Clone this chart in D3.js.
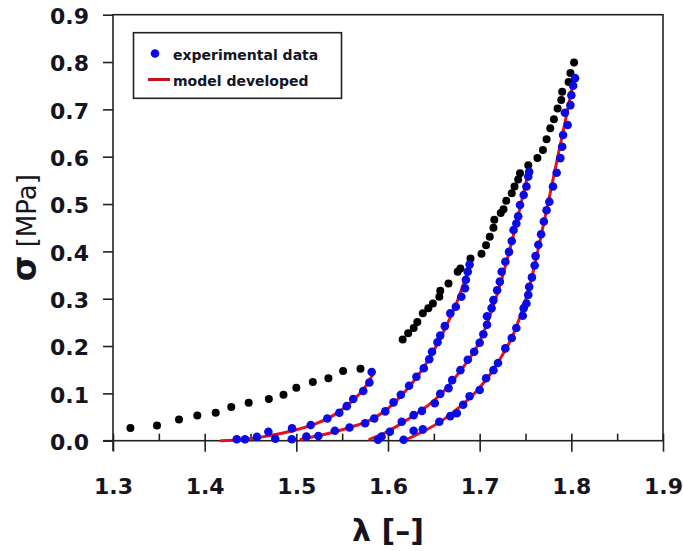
<!DOCTYPE html>
<html>
<head>
<meta charset="utf-8">
<script src="https://cdn.jsdelivr.net/npm/d3@7/dist/d3.min.js"></script>
<style>
  html, body { margin: 0; padding: 0; background: #fff; }
  svg { display: block; }
</style>
</head>
<body>
<svg id="chart" width="683" height="551"></svg>
<script>
// ---- data (λ, σ in MPa) ----
const xTicks = [1.3, 1.4, 1.5, 1.6, 1.7, 1.8, 1.9];
const xMinorTicks = [1.35, 1.45, 1.55, 1.65, 1.75, 1.85];
const yTicks = [0, 0.1, 0.2, 0.3, 0.4, 0.5, 0.6, 0.7, 0.8, 0.9];

const legendLabels = ["experimental data", "model developed"];

// black loading points
const blackLow = [
  [1.319,0.027],[1.348,0.032],[1.372,0.045],[1.392,0.053],[1.412,0.059],[1.429,0.071],
  [1.448,0.080],[1.470,0.088],[1.486,0.097],[1.500,0.112],[1.518,0.124],[1.535,0.132],
  [1.551,0.147],[1.570,0.152]
];
const blackHigh = [
  [1.616,0.214],[1.622,0.227],[1.628,0.238],[1.632,0.251],[1.638,0.269],[1.644,0.280],
  [1.649,0.290],[1.656,0.304],[1.657,0.317],[1.666,0.332],[1.676,0.357],[1.679,0.364],
  [1.690,0.385],[1.702,0.395],[1.707,0.413],[1.711,0.431],[1.715,0.450],[1.716,0.467],
  [1.723,0.481],[1.726,0.489],[1.729,0.507],[1.735,0.523],[1.738,0.537],[1.742,0.552],
  [1.744,0.565],[1.753,0.582],[1.763,0.597],[1.769,0.614],[1.773,0.637],[1.777,0.660],
  [1.781,0.679],[1.785,0.702],[1.789,0.720],[1.790,0.737],[1.797,0.758],[1.799,0.777],
  [1.803,0.799]
];

// blue experimental points (four unloading curves)
const blueA = [
  [1.435,0.003],[1.444,0.003],[1.457,0.008],[1.4695,0.019],[1.4953,0.026],[1.5157,0.033],
  [1.5338,0.047],[1.5469,0.059],[1.555,0.073],[1.5621,0.088],[1.573,0.105],[1.5797,0.123],
  [1.5822,0.145]
];
const blueB = [
  [1.477,0.004],[1.495,0.003],[1.511,0.009],[1.524,0.010],[1.542,0.021],[1.558,0.028],
  [1.575,0.037],[1.585,0.047],[1.597,0.062],[1.606,0.081],[1.614,0.097],[1.623,0.116],
  [1.631,0.135],[1.639,0.153],[1.645,0.172],[1.648,0.188],[1.654,0.208],[1.657,0.222],
  [1.662,0.242],[1.668,0.269],[1.674,0.283],[1.680,0.304],[1.684,0.322],[1.685,0.340],
  [1.687,0.357],[1.689,0.372]
];
const blueC = [
  [1.589,0.002],[1.593,0.009],[1.602,0.019],[1.615,0.040],[1.628,0.054],[1.637,0.063],
  [1.651,0.079],[1.657,0.099],[1.666,0.111],[1.670,0.128],[1.679,0.149],[1.687,0.171],
  [1.694,0.188],[1.700,0.207],[1.704,0.225],[1.708,0.245],[1.708,0.263],[1.713,0.280],
  [1.715,0.297],[1.719,0.318],[1.722,0.336],[1.724,0.357],[1.728,0.378],[1.732,0.399],
  [1.735,0.422],[1.737,0.445],[1.740,0.459],[1.742,0.474],[1.744,0.498],[1.748,0.519],
  [1.751,0.537],[1.753,0.558],[1.754,0.568]
];
const blueD = [
  [1.617,0.002],[1.628,0.021],[1.638,0.024],[1.656,0.040],[1.668,0.052],[1.675,0.058],
  [1.682,0.076],[1.689,0.094],[1.700,0.107],[1.707,0.132],[1.715,0.149],[1.720,0.164],
  [1.728,0.195],[1.735,0.217],[1.740,0.238],[1.747,0.264],[1.748,0.280],[1.751,0.290],
  [1.753,0.308],[1.754,0.325],[1.757,0.345],[1.760,0.370],[1.761,0.390],[1.764,0.414],
  [1.767,0.436],[1.770,0.463],[1.773,0.487],[1.776,0.505],[1.780,0.537],[1.784,0.566],
  [1.788,0.597],[1.790,0.621],[1.791,0.646],[1.796,0.667],[1.793,0.693],[1.799,0.709],
  [1.800,0.730],[1.802,0.750],[1.804,0.766]
];

// red model curves
const modelA = [
  [1.418,0.000],[1.44,0.002],[1.46,0.007],[1.48,0.014],[1.50,0.023],[1.52,0.035],
  [1.54,0.053],[1.56,0.082],[1.575,0.113],[1.584,0.142]
];
const modelB = [
  [1.505,0.003],[1.52,0.009],[1.54,0.018],[1.56,0.029],[1.58,0.043],[1.60,0.068],
  [1.62,0.107],[1.64,0.158],[1.66,0.228],[1.675,0.292],[1.69,0.375]
];
const modelC = [
  [1.580,0.003],[1.60,0.020],[1.62,0.043],[1.64,0.069],[1.66,0.103],[1.68,0.150],
  [1.70,0.210],[1.72,0.315],[1.735,0.420],[1.745,0.500],[1.753,0.565]
];
const modelD = [
  [1.617,0.000],[1.64,0.021],[1.66,0.044],[1.68,0.074],[1.70,0.112],[1.72,0.165],
  [1.74,0.240],[1.755,0.330],[1.765,0.415],[1.775,0.505],[1.785,0.598],[1.795,0.690],
  [1.803,0.765]
];

// ---- layout ----
const svg = d3.select("#chart");
const L = 113, R = 663, T = 14.7, B = 440.7;
const x = d3.scaleLinear().domain([1.3, 1.9]).range([L, R]);
const y = d3.scaleLinear().domain([0, 0.9]).range([B, T]);
const FONT = "'DejaVu Sans', sans-serif";
const TXT = "#151522";

// frame
svg.append("rect").attr("x", L).attr("y", T).attr("width", R - L).attr("height", B - T)
  .attr("fill", "none").attr("stroke", "#222").attr("stroke-width", 1.6);
// axis line extensions
svg.append("line").attr("x1", L).attr("x2", L).attr("y1", B).attr("y2", B + 10)
  .attr("stroke", "#222").attr("stroke-width", 1.6);
svg.append("line").attr("x1", L - 10).attr("x2", L).attr("y1", B).attr("y2", B)
  .attr("stroke", "#222").attr("stroke-width", 1.6);

// y axis
const yAxis = svg.append("g").attr("transform", `translate(${L},0)`)
  .call(d3.axisLeft(y).tickValues(yTicks).tickSize(10).tickPadding(14).tickFormat(d3.format(".1f")));
yAxis.select(".domain").remove();
yAxis.selectAll("line").attr("stroke", "#222").attr("stroke-width", 1.6);
yAxis.selectAll("text").attr("font-family", FONT).attr("font-weight", "bold")
  .attr("font-size", 22).attr("fill", TXT).attr("dy", "0.4em");

// x axis minor (inside) ticks
const xMinor = svg.append("g").attr("transform", `translate(0,${B})`)
  .call(d3.axisBottom(x).tickValues(xMinorTicks).tickSize(-7).tickFormat(""));
xMinor.select(".domain").remove();
xMinor.selectAll("line").attr("stroke", "#222").attr("stroke-width", 1.6);

// x axis major ticks (crossing)
const xAxis = svg.append("g").attr("transform", `translate(0,${B})`)
  .call(d3.axisBottom(x).tickValues(xTicks).tickSize(11).tickPadding(27).tickFormat(d3.format(".1f")));
xAxis.select(".domain").remove();
xAxis.selectAll("line").attr("stroke", "#222").attr("stroke-width", 1.6).attr("y1", -7);
xAxis.selectAll("text").attr("font-family", FONT).attr("font-weight", "bold")
  .attr("font-size", 22).attr("fill", TXT);

// axis titles
svg.append("text").attr("x", (L + R) / 2).attr("y", 541).attr("text-anchor", "middle")
  .attr("font-family", FONT).attr("font-weight", "bold").attr("font-size", 30).attr("fill", TXT)
  .text("λ [–]");

const yt = svg.append("text").attr("transform", `translate(36,${(T + B) / 2}) rotate(-90)`)
  .attr("text-anchor", "middle").attr("font-family", FONT).attr("fill", TXT);
yt.append("tspan").attr("font-weight", "bold").attr("font-size", 33).text("σ");
yt.append("tspan").attr("font-size", 26).text(" [MPa]");

// model lines
const line = d3.line().x(d => x(d[0])).y(d => y(d[1])).curve(d3.curveMonotoneX);
[modelA, modelB, modelC, modelD].forEach(m => {
  svg.append("path").datum(m).attr("d", line).attr("fill", "none")
    .attr("stroke", "#e8101a").attr("stroke-width", 3).attr("stroke-linecap", "round");
});

// black points
svg.append("g").selectAll("circle").data(blackLow.concat(blackHigh)).join("circle")
  .attr("cx", d => x(d[0])).attr("cy", d => y(d[1])).attr("r", 4).attr("fill", "#000");

// blue points
svg.append("g").selectAll("circle").data(blueA.concat(blueB, blueC, blueD)).join("circle")
  .attr("cx", d => x(d[0])).attr("cy", d => y(d[1])).attr("r", 4.3).attr("fill", "#0a0ae6");

// legend
const lg = svg.append("g");
lg.append("rect").attr("x", 133.5).attr("y", 32.7).attr("width", 208).attr("height", 65.6)
  .attr("fill", "#fff").attr("stroke", "#222").attr("stroke-width", 1.6);
lg.append("circle").attr("cx", 155).attr("cy", 53.5).attr("r", 4.3).attr("fill", "#0a0ae6");
lg.append("line").attr("x1", 148).attr("x2", 170).attr("y1", 79.5).attr("y2", 79.5)
  .attr("stroke", "#c8101a").attr("stroke-width", 3);
lg.selectAll("text.lab").data(legendLabels).join("text").attr("class", "lab")
  .attr("x", 173).attr("y", (d, i) => 60 + i * 26)
  .attr("font-family", FONT).attr("font-weight", "bold").attr("font-size", 14).attr("fill", TXT)
  .text(d => d);
</script>
</body>
</html>
